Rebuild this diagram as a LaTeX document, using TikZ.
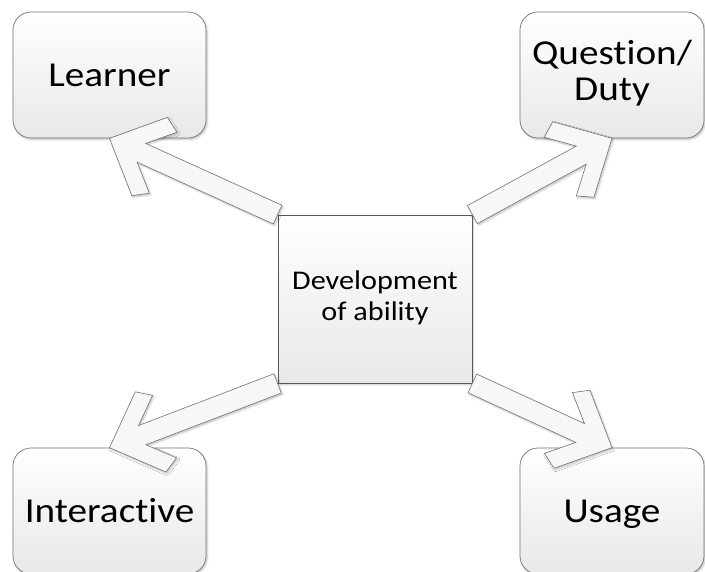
\documentclass[tikz,border=0pt]{standalone}
\usepackage{fontspec}
\setmainfont{Carlito}[Ligatures={NoCommon}]
\usepackage{graphicx}
\usetikzlibrary{calc,shadows.blur}
\newcommand\hstretch[1]{\scalebox{1.12}[1]{#1}}
\newcommand\chevarrow[2]{%
  \draw[chev] ($(#1)!10.3pt!-90:(#2)$) -- ($(#2)!36.5pt!16.4:(#1)$) -- ($(#2)!67.8pt!29.6:(#1)$) -- ($(#2)!61.5pt!44.3:(#1)$) -- (#2) -- ($(#2)!61.5pt!-44.3:(#1)$) -- ($(#2)!67.8pt!-29.6:(#1)$) -- ($(#2)!36.5pt!-16.4:(#1)$) -- ($(#1)!10.3pt!90:(#2)$) -- cycle;}
\tikzset{
  shad/.style={blur shadow={shadow blur steps=6, shadow xshift=1.2pt, shadow yshift=-1.5pt, shadow opacity=25}},
  box/.style={draw=black!55, line width=0.7pt, rounded corners=18pt, top color=white, bottom color=black!9,
    minimum width=193pt, minimum height=126pt, inner sep=0pt, align=center, text=black,
    font=\fontsize{35}{36}\selectfont, shad},
  centerbox/.style={draw=black!65, line width=0.8pt, top color=white, bottom color=black!9,
    minimum width=194pt, minimum height=168pt, inner sep=0pt, align=center, text=black,
    font=\fontsize{27}{31}\selectfont, shad},
  chev/.style={draw=black!55, line width=0.6pt, fill=black!3, line join=miter, shad}
}
\begin{document}
\begin{tikzpicture}[x=1pt,y=1pt]
\useasboundingbox (0,0) rectangle (705,-571);
\node[box] (L) at (109.5,-75) {\hstretch{Learner}};
\node[box, minimum width=184pt] (Q) at (612,-75) {\hstretch{\begin{tabular}{@{}c@{}}Question/\\Duty\end{tabular}}};
\node[box] (I) at (109.5,-511) {\hstretch{Interactive}};
\node[box, minimum width=184pt, text depth=0pt] (U) at (612,-511) {\hstretch{Usage}};
\node[centerbox] (C) at (375,-299) {\hstretch{\begin{tabular}{@{}c@{}}Development\\of ability\end{tabular}}};
\chevarrow{C.north west}{L.south}
\chevarrow{C.north east}{Q.south}
\chevarrow{C.south west}{I.north}
\chevarrow{C.south east}{U.north}
\end{tikzpicture}
\end{document}
